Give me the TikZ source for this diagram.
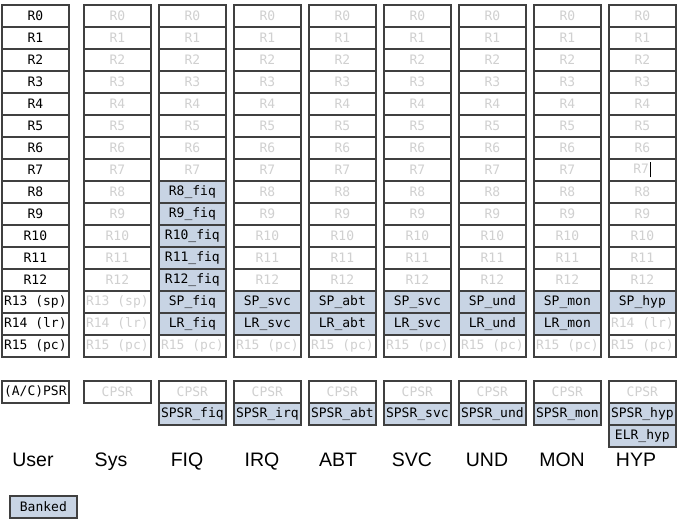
\documentclass[tikz,border=0pt]{standalone}
\usepackage{fontspec}
\setmainfont{Liberation Sans}
\newfontfamily\regfont{DejaVu Sans Mono}
\definecolor{bank}{RGB}{200,212,228}
\definecolor{ghost}{RGB}{208,208,208}
\definecolor{edge}{RGB}{64,64,64}
\begin{document}
\begin{tikzpicture}[x=1pt,y=-1pt,
  cell/.style={draw=edge, line width=1.7pt, minimum width=67pt, minimum height=22pt,
    inner sep=0pt, anchor=north west, font=\regfont\fontsize{13}{13}\selectfont, fill=white},
  live/.style={cell, text=black},
  ghostcell/.style={cell, text=ghost},
  banked/.style={cell, fill=bank, text=black},
  mode/.style={font=\fontsize{19.5}{20}\selectfont, anchor=base, inner sep=0pt}]
\useasboundingbox (0,0) rectangle (690,526);
% User
\foreach \r in {0,...,12} \node[live] (user-\r) at (1,{4+22*\r}) {R\r};
\node[live] (user-13) at (1,290) {R13 (sp)};
\node[live] (user-14) at (1,312) {R14 (lr)};
\node[live] (user-15) at (1,334) {R15 (pc)};
\node[live] (user-psr) at (1,380) {(A/C)PSR};
% Sys
\foreach \r in {0,...,12} \node[ghostcell] (sys-\r) at (83,{4+22*\r}) {R\r};
\node[ghostcell] (sys-13) at (83,290) {R13 (sp)};
\node[ghostcell] (sys-14) at (83,312) {R14 (lr)};
\node[ghostcell] (sys-15) at (83,334) {R15 (pc)};
\node[ghostcell] (sys-psr) at (83,380) {CPSR};
% FIQ
\foreach \r in {0,...,7} \node[ghostcell] (fiq-\r) at (158,{4+22*\r}) {R\r};
\foreach \r in {8,...,12} \node[banked] (fiq-\r) at (158,{4+22*\r}) {R\r\_fiq};
\node[banked] (fiq-13) at (158,290) {SP\_fiq};
\node[banked] (fiq-14) at (158,312) {LR\_fiq};
\node[ghostcell] (fiq-15) at (158,334) {R15 (pc)};
\node[ghostcell] (fiq-psr) at (158,380) {CPSR};
\node[banked] (fiq-spsr) at (158,402) {SPSR\_fiq};
% IRQ ABT SVC UND MON
\foreach \m/\x/\s in {irq/233/svc, abt/308/abt, svc/383/svc, und/458/und, mon/533/mon}{
  \foreach \r in {0,...,12} \node[ghostcell] (\m-\r) at (\x,{4+22*\r}) {R\r};
  \node[banked] (\m-13) at (\x,290) {SP\_\s};
  \node[banked] (\m-14) at (\x,312) {LR\_\s};
  \node[ghostcell] (\m-15) at (\x,334) {R15 (pc)};
  \node[ghostcell] (\m-psr) at (\x,380) {CPSR};
  \node[banked] (\m-spsr) at (\x,402) {SPSR\_\m};
}
% HYP
\foreach \r in {0,...,6} \node[ghostcell] (hyp-\r) at (608,{4+22*\r}) {R\r};
\node[ghostcell] (hyp-7) at (608,158) {R7\kern0.5pt\textcolor{black}{\rule[-3.5pt]{1.8pt}{15pt}}};
\foreach \r in {8,...,12} \node[ghostcell] (hyp-\r) at (608,{4+22*\r}) {R\r};
\node[banked] (hyp-13) at (608,290) {SP\_hyp};
\node[ghostcell] (hyp-14) at (608,312) {R14 (lr)};
\node[ghostcell] (hyp-15) at (608,334) {R15 (pc)};
\node[ghostcell] (hyp-psr) at (608,380) {CPSR};
\node[banked] (hyp-spsr) at (608,402) {SPSR\_hyp};
\node[banked] (hyp-elr) at (608,424) {ELR\_hyp};
% mode labels
\foreach \n/\x in {User/33, Sys/111, FIQ/187, IRQ/262, ABT/338, SVC/412, UND/487, MON/562, HYP/636}
  \node[mode] (lab-\n) at (\x,466) {\n};
% legend
\node[banked] (legend) at (9,495) {Banked};
\end{tikzpicture}
\end{document}
